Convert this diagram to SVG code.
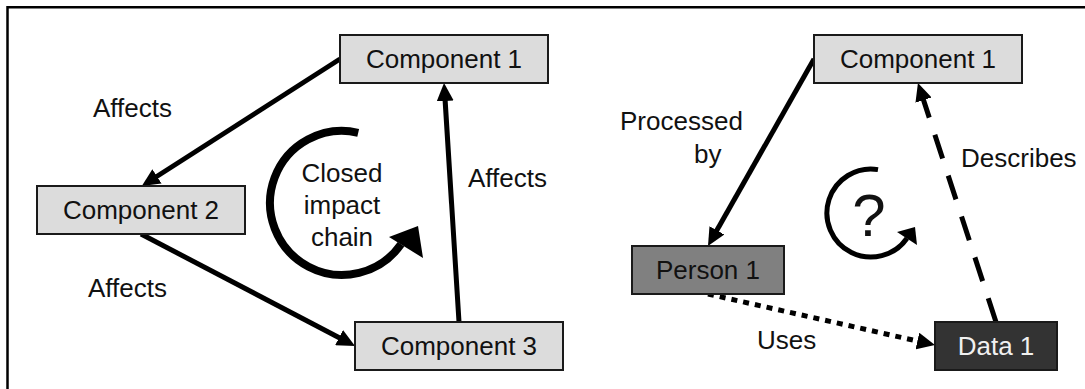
<svg xmlns="http://www.w3.org/2000/svg" width="1085" height="389" viewBox="0 0 1085 389">
  <style>
    text { font-family: "Liberation Sans", Arial, sans-serif; font-size: 26px; fill: #111; }
    .box { stroke: #1a1a1a; stroke-width: 2; }
    .comp { fill: #dcdcdc; }
    .person { fill: #808080; }
    .data { fill: #333333; }
    .data-label { fill: #f0f0f0; }
    .mid { text-anchor: middle; }
    .link { fill: none; stroke: #000; stroke-width: 5; }
    .dashed { stroke-dasharray: 25 18; }
    .dotted { stroke-dasharray: 6 6; }
    .cycle { fill: none; stroke: #000; }
  </style>
  <defs>
    <marker id="arrow" viewBox="0 0 18 17" markerWidth="18" markerHeight="17" refX="4" refY="8.5" orient="auto" markerUnits="userSpaceOnUse">
      <path d="M0,0 L18,8.5 L0,17 z" fill="#000"/>
    </marker>
  </defs>

  <!-- frame (top and left edges) -->
  <path d="M7.5 389 V7.2 H1085" fill="none" stroke="#000" stroke-width="2.5"/>

  <!-- connectors -->
  <g id="connectors">
    <line class="link" x1="340" y1="59" x2="153.6" y2="178.5" marker-end="url(#arrow)"/>
    <line class="link" x1="141" y1="234" x2="342.6" y2="339.5" marker-end="url(#arrow)"/>
    <line class="link" x1="459" y1="322" x2="444.9" y2="97" marker-end="url(#arrow)"/>
    <line class="link" x1="814" y1="59" x2="714.9" y2="233.8" marker-end="url(#arrow)"/>
    <line class="link dotted" x1="708" y1="294" x2="921.3" y2="341.9" marker-end="url(#arrow)"/>
    <line class="link dashed" x1="996" y1="322" x2="922.3" y2="96.3" marker-end="url(#arrow)"/>
  </g>

  <!-- connector labels -->
  <g id="labels">
    <text x="93" y="117">Affects</text>
    <text x="468" y="187">Affects</text>
    <text x="88" y="297">Affects</text>
    <text x="620" y="130">Processed</text>
    <text x="694" y="163">by</text>
    <text x="961" y="167">Describes</text>
    <text x="757" y="349">Uses</text>
  </g>

  <!-- closed impact chain cycle -->
  <g id="cycle-closed">
    <path class="cycle" stroke-width="8" d="M358.2 132.8 A72 72 0 1 0 401 244.3"/>
    <polygon points="389,237 418,226 423,258" fill="#000"/>
    <text class="mid" x="342" y="182">Closed</text>
    <text class="mid" x="342" y="214">impact</text>
    <text class="mid" x="342" y="246">chain</text>
  </g>

  <!-- open question cycle -->
  <g id="cycle-question">
    <path class="cycle" stroke-width="5" d="M878 169.6 A44 44 0 1 0 907 238.2"/>
    <polygon points="897,232 915,227 917,245" fill="#000"/>
    <text class="mid" x="869" y="236" style="font-size:60px">?</text>
  </g>

  <!-- nodes -->
  <g id="component1-left">
    <rect class="box comp" x="340" y="35" width="208" height="48"/>
    <text class="mid" x="444" y="68">Component 1</text>
  </g>
  <g id="component2">
    <rect class="box comp" x="37" y="186" width="208" height="48"/>
    <text class="mid" x="141" y="219">Component 2</text>
  </g>
  <g id="component3">
    <rect class="box comp" x="355" y="322" width="208" height="48"/>
    <text class="mid" x="459" y="355">Component 3</text>
  </g>
  <g id="component1-right">
    <rect class="box comp" x="814" y="35" width="208" height="48"/>
    <text class="mid" x="918" y="68">Component 1</text>
  </g>
  <g id="person1">
    <rect class="box person" x="632" y="246" width="152" height="48"/>
    <text class="mid" x="708" y="279">Person 1</text>
  </g>
  <g id="data1">
    <rect class="box data" x="935" y="322" width="122" height="48"/>
    <text class="mid data-label" x="996" y="355">Data 1</text>
  </g>
</svg>
